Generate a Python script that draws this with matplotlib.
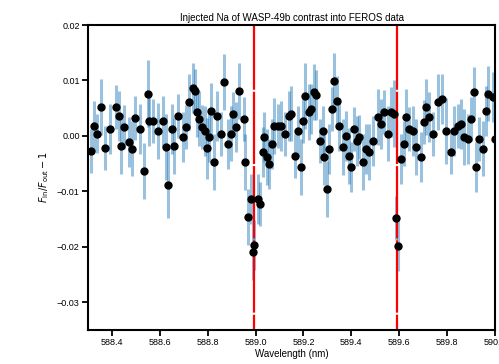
import matplotlib
matplotlib.use("Agg")
import matplotlib.pyplot as plt
import numpy as np

plt.rcParams['font.family'] = ['Liberation Sans', 'DejaVu Sans']
plt.rcParams['mathtext.fontset'] = 'dejavusans'
plt.rcParams['lines.scale_dashes'] = False

title = "Injected Na of WASP-49b contrast into FEROS data"
xlabel = "Wavelength (nm)"
ylabel = r"$F_{\rm in}/F_{\rm out}-1$"

na_lines = [588.995, 589.592]

wavelength = [
    588.312, 588.325, 588.337, 588.354, 588.371, 588.392, 588.417, 588.429, 588.438, 588.450,
    588.471, 588.484, 588.496, 588.517, 588.534, 588.550, 588.554, 588.571, 588.592, 588.613,
    588.625, 588.634, 588.651, 588.659, 588.676, 588.696, 588.709, 588.722, 588.738, 588.747,
    588.755, 588.763, 588.776, 588.788, 588.799, 588.807, 588.813, 588.826, 588.838, 588.855,
    588.868, 588.884, 588.897, 588.905, 588.918, 588.930, 588.951, 588.955, 588.968, 588.980,
    588.989, 588.993, 589.010, 589.018, 589.030, 589.035, 589.047, 589.056, 589.068, 589.076,
    589.093, 589.106, 589.122, 589.139, 589.147, 589.164, 589.177, 589.189, 589.198, 589.206,
    589.223, 589.231, 589.243, 589.252, 589.268, 589.281, 589.285, 589.298, 589.306, 589.319,
    589.327, 589.339, 589.348, 589.365, 589.377, 589.390, 589.398, 589.410, 589.423, 589.431,
    589.448, 589.461, 589.473, 589.490, 589.511, 589.523, 589.536, 589.552, 589.565, 589.577,
    589.586, 589.594, 589.607, 589.619, 589.628, 589.640, 589.657, 589.669, 589.690, 589.703,
    589.711, 589.724, 589.740, 589.761, 589.778, 589.795, 589.815, 589.828, 589.845, 589.857,
    589.870, 589.886, 589.899, 589.912, 589.920, 589.932, 589.949, 589.962, 589.970, 589.991,
    589.999,
]

contrast = [
    -0.0027, 0.0018, 0.0004, 0.0052, -0.0022, 0.0013, 0.0052, 0.0036, -0.0018, 0.0016,
    -0.0011, -0.0023, 0.0032, 0.0013, -0.0063, 0.0076, 0.0027, 0.0027, 0.0009, 0.0027,
    -0.0020, -0.0088, 0.0013, -0.0018, 0.0036, -0.0002, 0.0016, 0.0061, 0.0087, 0.0081,
    0.0043, 0.0031, 0.0016, 0.0009, -0.0022, -0.0002, 0.0045, -0.0047, 0.0036, 0.0004,
    0.0097, -0.0014, 0.0004, 0.0040, 0.0016, 0.0081, 0.0031, -0.0047, -0.0146, -0.0114,
    -0.0209, -0.0197, -0.0114, -0.0123, -0.0029, -0.0002, -0.0038, -0.0051, -0.0014, 0.0018,
    0.0018, 0.0018, 0.0004, 0.0036, 0.0040, -0.0036, 0.0009, -0.0056, 0.0027, 0.0072,
    0.0043, 0.0049, 0.0079, 0.0074, -0.0009, 0.0009, -0.0038, -0.0096, -0.0023, 0.0049,
    0.0099, 0.0063, 0.0018, -0.0020, 0.0000, -0.0036, -0.0056, 0.0013, -0.0009, -0.0002,
    -0.0047, -0.0023, -0.0029, -0.0009, 0.0034, 0.0022, 0.0043, 0.0004, 0.0043, 0.0040,
    -0.0148, -0.0199, -0.0042, -0.0014, 0.0034, 0.0013, 0.0009, -0.0020, -0.0038, 0.0025,
    0.0052, 0.0034, 0.0004, 0.0061, 0.0067, 0.0009, -0.0029, 0.0009, 0.0018, 0.0022,
    -0.0002, -0.0005, 0.0031, 0.0079, -0.0056, -0.0005, -0.0023, 0.0045, 0.0076, 0.0070,
    -0.0005,
]

error = [
    0.0040, 0.0045, 0.0035, 0.0050, 0.0040, 0.0045, 0.0040, 0.0045, 0.0050, 0.0040,
    0.0045, 0.0050, 0.0040, 0.0045, 0.0050, 0.0060, 0.0045, 0.0040, 0.0050, 0.0045,
    0.0060, 0.0060, 0.0045, 0.0050, 0.0040, 0.0045, 0.0040, 0.0050, 0.0045, 0.0040,
    0.0045, 0.0050, 0.0040, 0.0045, 0.0055, 0.0045, 0.0050, 0.0050, 0.0045, 0.0040,
    0.0050, 0.0045, 0.0050, 0.0040, 0.0045, 0.0050, 0.0040, 0.0050, 0.0050, 0.0045,
    0.0050, 0.0045, 0.0045, 0.0040, 0.0045, 0.0045, 0.0050, 0.0045, 0.0045, 0.0050,
    0.0040, 0.0045, 0.0040, 0.0045, 0.0050, 0.0040, 0.0045, 0.0050, 0.0040, 0.0060,
    0.0050, 0.0045, 0.0050, 0.0045, 0.0040, 0.0045, 0.0050, 0.0050, 0.0045, 0.0040,
    0.0050, 0.0045, 0.0045, 0.0050, 0.0045, 0.0050, 0.0045, 0.0040, 0.0045, 0.0040,
    0.0050, 0.0045, 0.0050, 0.0045, 0.0050, 0.0045, 0.0040, 0.0050, 0.0045, 0.0060,
    0.0040, 0.0045, 0.0045, 0.0040, 0.0050, 0.0040, 0.0045, 0.0050, 0.0045, 0.0040,
    0.0050, 0.0045, 0.0040, 0.0050, 0.0045, 0.0060, 0.0040, 0.0045, 0.0040, 0.0045,
    0.0050, 0.0045, 0.0040, 0.0045, 0.0045, 0.0040, 0.0050, 0.0045, 0.0050, 0.0045,
    0.0045,
]

fig = plt.figure(figsize=(4.99, 3.64), dpi=100)
ax = fig.add_axes([0.1764, 0.0934, 0.8156, 0.8379])

ax.errorbar(wavelength, contrast, yerr=error, fmt='none', ecolor='#1f77b4',
            elinewidth=2.2, alpha=0.45, capsize=0, zorder=1)
for w in na_lines:
    ax.axvline(w, color='red', lw=1.6, zorder=2,
               linestyle=(41, (52, 1.5)))
ax.plot(wavelength, contrast, 'o', color='black', ms=5, zorder=3)

ax.set_xlim(588.3, 590.0)
ax.set_ylim(-0.035, 0.02)
ax.set_xticks([588.4, 588.6, 588.8, 589.0, 589.2, 589.4, 589.6, 589.8, 590.0])
ax.set_xticklabels(['588.4', '588.6', '588.8', '589.0', '589.2', '589.4', '589.6', '589.8', '590.0'])
ax.set_yticks([0.02, 0.01, 0.0, -0.01, -0.02, -0.03])
ax.set_yticklabels(['0.02', '0.01', '0.00', '\u22120.01', '\u22120.02', '\u22120.03'])

for s in ax.spines.values():
    s.set_linewidth(1.5)
ax.tick_params(direction='out', length=4, width=1.3, labelsize=6.5, pad=2)

ax.set_title(title, fontsize=7, pad=3)
ax.set_xlabel(xlabel, fontsize=7, labelpad=1)
ax.set_ylabel(ylabel, fontsize=7, labelpad=4)

fig.savefig('out.png', dpi=100)
